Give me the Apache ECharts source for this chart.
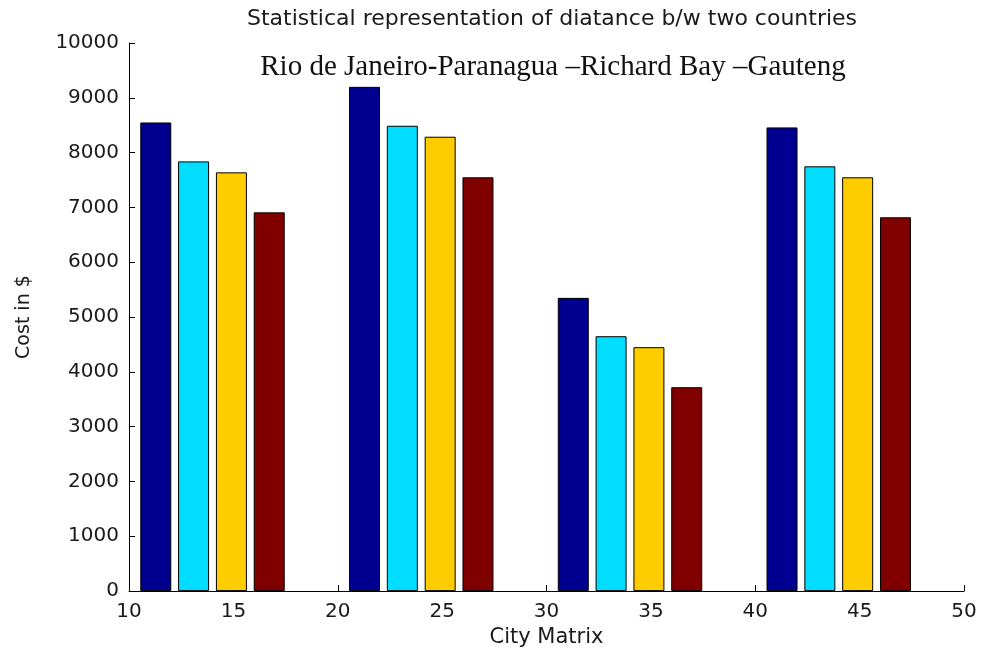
<!DOCTYPE html>
<html>
<head>
<meta charset="utf-8">
<script src="https://cdn.jsdelivr.net/npm/echarts@6/dist/echarts.min.js"></script>
<style>
html,body{margin:0;padding:0;background:#fff;}
#chart{width:984px;height:653px;}
</style>
</head>
<body>
<div id="chart"></div>
<script>
// Group positions on the x axis (City Matrix)
const groupX = [14, 24, 34, 44];
// Cost values for the four bars of each group
const series1 = [8550, 9200, 5350, 8460];
const series2 = [7840, 8490, 4650, 7750];
const series3 = [7640, 8290, 4450, 7550];
const series4 = [6910, 7550, 3720, 6820];
const seriesNames = ['Series 1', 'Series 2', 'Series 3', 'Series 4'];
const colors = ['#000090', '#00DDFF', '#FFCC00', '#800000'];

const titleText = 'Statistical representation of diatance b/w two countries';
const subtitleText = 'Rio de Janeiro-Paranagua \u2013Richard Bay \u2013Gauteng';
const xName = 'City Matrix';
const yName = 'Cost in $';

const allSeries = [series1, series2, series3, series4];

const chart = echarts.init(document.getElementById('chart'), null, {renderer: 'canvas'});
const font = 'DejaVu Sans';
chart.setOption({
  backgroundColor: '#ffffff',
  animation: false,
  title: [
    {text: titleText, left: 547, top: 3, textAlign: 'center',
     textStyle: {fontFamily: font, fontSize: 22, fontWeight: 'normal', color: '#1a1a1a'}},
    {text: subtitleText, left: 548, top: 48, textAlign: 'center',
     textStyle: {fontFamily: 'Liberation Serif', fontSize: 29, fontWeight: 'normal', color: '#111'}}
  ],
  grid: {left: 129, right: 20, top: 43, bottom: 60, containLabel: false},
  xAxis: {
    type: 'value', min: 10, max: 50, interval: 5,
    name: xName, nameLocation: 'middle', nameGap: 35,
    nameTextStyle: {fontFamily: font, fontSize: 21, color: '#1a1a1a'},
    axisLine: {show: true, onZero: false, lineStyle: {color: '#000', width: 1}},
    axisTick: {show: true, inside: true, length: 6, lineStyle: {color: '#000'}},
    axisLabel: {fontFamily: font, fontSize: 20, color: '#1a1a1a', margin: 11},
    splitLine: {show: false}
  },
  yAxis: {
    type: 'value', min: 0, max: 10000, interval: 1000,
    name: yName, nameLocation: 'middle', nameGap: 95,
    nameTextStyle: {fontFamily: font, fontSize: 19, color: '#1a1a1a'},
    axisLine: {show: true, lineStyle: {color: '#000', width: 1}},
    axisTick: {show: true, inside: true, length: 6, lineStyle: {color: '#000'}},
    axisLabel: {fontFamily: font, fontSize: 20, color: '#1a1a1a', margin: 10,
                formatter: v => String(v)},
    splitLine: {show: false}
  },
  series: allSeries.map((vals, i) => ({
    type: 'bar',
    name: seriesNames[i],
    data: vals.map((v, j) => [groupX[j], v]),
    barWidth: 31,
    barGap: '22%',
    itemStyle: {color: colors[i], borderColor: '#000', borderWidth: 1}
  }))
});
</script>
</body>
</html>
